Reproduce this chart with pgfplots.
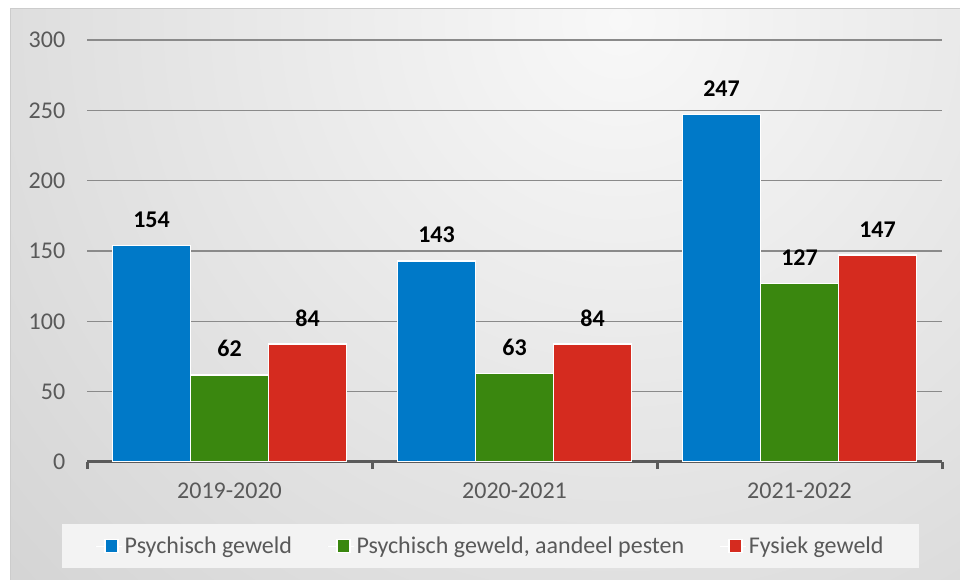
\documentclass[border=0pt]{standalone}
\usepackage{pgfplots}
\pgfplotsset{compat=1.18}
\usepackage{fontspec}
\setmainfont{Carlito}
\definecolor{cblue}{HTML}{0079C8}
\definecolor{cgreen}{HTML}{3A870F}
\definecolor{cred}{HTML}{D52B1F}
\definecolor{txt}{HTML}{595959}
\definecolor{axc}{HTML}{5A5A5A}
\definecolor{gridc}{HTML}{8A8A8A}
\definecolor{legbg}{HTML}{F3F3F3}
\definecolor{bgin}{HTML}{F8F8F8}
\definecolor{bgout}{HTML}{B8B8B8}
\newcommand\f{\fontsize{24pt}{28pt}\selectfont}
\begin{document}
\begin{tikzpicture}[x=1pt,y=1pt]
\useasboundingbox (0,0) rectangle (960,580);
\fill[white] (0,0) rectangle (960,580);
\begin{scope}
\clip (10,0) rectangle (960,571);
\shade[inner color=bgin, outer color=bgout] (620,560) circle (1500);
\end{scope}
\draw[gray!40, line width=1pt] (10,0) -- (10,571) -- (960,571);
\begin{axis}[
  at={(87pt,118pt)}, anchor=south west,
  scale only axis, width=855pt, height=422pt,
  xmin=-0.5, xmax=2.5, ymin=0, ymax=300,
  ybar=0pt, bar width=78pt,
  axis x line*=bottom, axis y line*=left,
  y axis line style={draw=none},
  x axis line style={axc, line width=3pt},
  xtick={0,1,2},
  xticklabels={2019-2020,2020-2021,2021-2022},
  major x tick style={draw=none},
  minor xtick={-0.5,0.5,1.5,2.5},
  minor x tick style={axc, line width=3pt},
  minor tick length=7pt,
  tick align=outside,
  ytick={0,50,...,300},
  ytick style={draw=none},
  ymajorgrids, grid style={gridc, line width=1.5pt},
  tick label style={font=\f, text=txt},
  /pgf/number format/assume math mode=true,
  xticklabel style={yshift=-13pt},
  yticklabel style={xshift=-14pt},
  nodes near coords,
  nodes near coords style={font=\f\bfseries, black, anchor=center, yshift=26pt},
  legend columns=3,
  legend style={at={(-0.0292,-0.147)}, anchor=north west, draw=none, fill=legbg,
    font=\f, text=txt, inner xsep=33pt, inner ysep=11pt,
    /tikz/every even column/.append style={column sep=33pt}},
  legend cell align=left,
  legend image code/.code={\path (-9pt,0pt) -- (17pt,0pt);\fill[#1] (0pt,-6pt) rectangle (13pt,7pt);},
]
\addplot[fill=cblue, draw=white, line width=1.5pt] coordinates {(0,154) (1,143) (2,247)};
\addplot[fill=cgreen, draw=white, line width=1.5pt] coordinates {(0,62) (1,63) (2,127)};
\addplot[fill=cred, draw=white, line width=1.5pt] coordinates {(0,84) (1,84) (2,147)};
\legend{Psychisch geweld, {Psychisch geweld, aandeel pesten}, Fysiek geweld}
\end{axis}
\end{tikzpicture}
\end{document}
